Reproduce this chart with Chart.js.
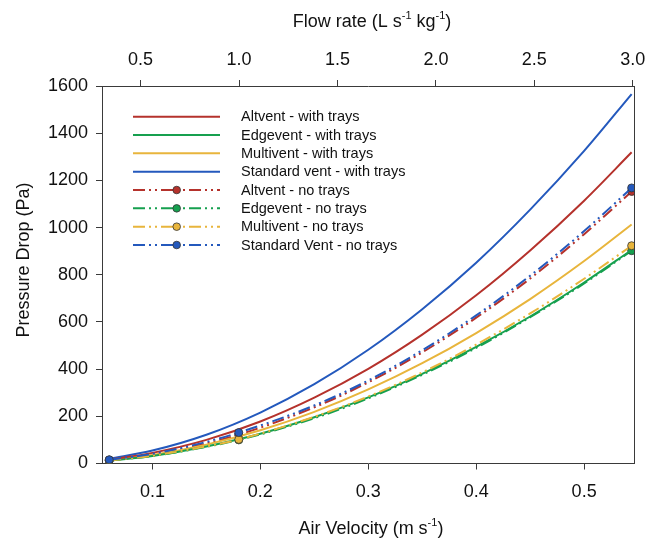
<!DOCTYPE html>
<html><head><meta charset="utf-8">
<script src="https://cdn.jsdelivr.net/npm/chart.js@4.4.0/dist/chart.umd.min.js"></script>
<style>html,body{margin:0;padding:0;background:#fff}#wrap{width:648px;height:543px;position:relative}</style>
</head><body><div id="wrap"><canvas id="c" width="648" height="543"></canvas></div>
<script>
// ---- data ----
const VELOCITY_TRAYS   = [0.06, 0.10, 0.15, 0.20, 0.25, 0.30, 0.35, 0.40, 0.45, 0.50, 0.544];
const VELOCITY_NOTRAYS = [0.06, 0.10, 0.14, 0.18, 0.25, 0.30, 0.35, 0.40, 0.45, 0.50, 0.544];
const MEASURED_INDEX   = [0, 3, 10];

const ALTVENT_TRAYS   = [16, 45, 100, 178, 279, 401, 546, 713, 903, 1114, 1319];
const EDGEVENT_TRAYS  = [12, 32, 72, 126, 196, 280, 380, 494, 623, 767, 905];
const MULTIVENT_TRAYS = [13, 36, 80, 141, 219, 314, 425, 553, 697, 858, 1013];
const STANDARD_TRAYS  = [20, 55, 122, 216, 336, 482, 654, 851, 1076, 1325, 1566];

const ALTVENT_NOTRAYS   = [15, 38, 74, 122, 238, 344, 471, 618, 784, 972, 1153];
const EDGEVENT_NOTRAYS  = [13, 32, 62, 100, 192, 276, 376, 490, 620, 763, 902];
const MULTIVENT_NOTRAYS = [13, 33, 64, 102, 198, 284, 386, 504, 636, 783, 923];
const STANDARD_NOTRAYS  = [16, 41, 80, 131, 246, 352, 480, 628, 796, 985, 1168];

const SERIES_NAMES = [
  'Altvent - with trays', 'Edgevent - with trays', 'Multivent - with trays', 'Standard vent - with trays',
  'Altvent - no trays', 'Edgevent - no trays', 'Multivent - no trays', 'Standard Vent - no trays'
];
const Y_TICKS = [0, 200, 400, 600, 800, 1000, 1200, 1400, 1600];
const VELOCITY_TICKS = [0.1, 0.2, 0.3, 0.4, 0.5];
const FLOW_TICKS = [0.5, 1.0, 1.5, 2.0, 2.5, 3.0];

// ---- styles ----
const RED = '#b5322c', GREEN = '#16a04f', YELLOW = '#e8b53c', BLUE = '#2459bd';
const FONT = '"Liberation Sans", Arial, sans-serif';
const DASH = [12, 4, 2, 4, 2, 4];

function pts(xs, ys) { return xs.map((x, i) => ({x: x, y: ys[i]})); }
function radii(n) { const r = []; for (let i = 0; i < n; i++) r.push(MEASURED_INDEX.includes(i) ? 4 : 0); return r; }

function solid(label, ys, color) {
  return {label, data: pts(VELOCITY_TRAYS, ys), borderColor: color, backgroundColor: color,
    borderWidth: 2, pointRadius: 0, cubicInterpolationMode: 'monotone', fill: false, xAxisID: 'x', yAxisID: 'y'};
}
function dashed(label, ys, color) {
  return {label, data: pts(VELOCITY_NOTRAYS, ys), borderColor: color, backgroundColor: color,
    borderWidth: 2, borderDash: DASH, pointRadius: radii(ys.length), pointHoverRadius: 0,
    pointBackgroundColor: color, pointBorderColor: '#333', pointBorderWidth: 0.8,
    cubicInterpolationMode: 'monotone', fill: false, xAxisID: 'x', yAxisID: 'y'};
}

const datasets = [
  solid(SERIES_NAMES[0], ALTVENT_TRAYS, RED),
  solid(SERIES_NAMES[1], EDGEVENT_TRAYS, GREEN),
  solid(SERIES_NAMES[2], MULTIVENT_TRAYS, YELLOW),
  solid(SERIES_NAMES[3], STANDARD_TRAYS, BLUE),
  dashed(SERIES_NAMES[4], ALTVENT_NOTRAYS, RED),
  dashed(SERIES_NAMES[5], EDGEVENT_NOTRAYS, GREEN),
  dashed(SERIES_NAMES[6], MULTIVENT_NOTRAYS, YELLOW),
  dashed(SERIES_NAMES[7], STANDARD_NOTRAYS, BLUE)
];
// drawing order (lower order = drawn on top)
datasets[7].order = -2;
datasets[6].order = -1;

const AXIS_COLOR = '#3a3a3a';
function axis(pos, min, max, ticks, extra) {
  return Object.assign({
    type: 'linear', position: pos, min: min, max: max,
    afterBuildTicks: s => { s.ticks = ticks.map(v => ({value: v})); },
    ticks: {font: {family: FONT, size: 18}, color: '#111', padding: 10,
      callback: v => String(v), maxRotation: 0, autoSkip: false},
    grid: {drawOnChartArea: false, drawTicks: true, tickLength: 6, color: AXIS_COLOR, tickColor: AXIS_COLOR, lineWidth: 1},
    border: {display: true, color: AXIS_COLOR, width: 1}
  }, extra);
}

function fixH(h) { return s => { s.height = h; s.paddingLeft = 0; s.paddingRight = 0; }; }
function fixW(w) { return s => { s.width = w; s.paddingTop = 0; s.paddingBottom = 0; }; }

const scales = {
  x: axis('bottom', 0.0533, 0.5462, VELOCITY_TICKS, {afterFit: fixH(79.5)}),
  x2: axis('top', 0.304, 3.006, FLOW_TICKS, {afterFit: fixH(86)}),
  y: axis('left', 0, 1600, Y_TICKS, {afterFit: fixW(102)})
};
scales.x.ticks.callback = v => v.toFixed(1);
scales.x.ticks.padding = 12;
scales.x2.ticks.callback = v => v.toFixed(1);
scales.x2.ticks.padding = 9;
scales.y.ticks.padding = 8;

function drawRich(ctx, parts, cx, cy, size) {
  const big = size + 'px ' + FONT, small = Math.round(size * 0.62) + 'px ' + FONT;
  let total = 0;
  parts.forEach(p => { ctx.font = p.sup ? small : big; p.w = ctx.measureText(p.t).width; total += p.w; });
  let x = cx - total / 2;
  ctx.textBaseline = 'alphabetic';
  ctx.textAlign = 'left';
  parts.forEach(p => {
    ctx.font = p.sup ? small : big;
    ctx.fillText(p.t, x, p.sup ? cy - size * 0.42 : cy);
    x += p.w;
  });
}

const decor = {
  id: 'decor',
  afterDraw(chart) {
    const ctx = chart.ctx, a = chart.chartArea;
    ctx.save();
    ctx.strokeStyle = AXIS_COLOR; ctx.lineWidth = 1;
    ctx.beginPath(); ctx.moveTo(a.right + 0.5, a.top); ctx.lineTo(a.right + 0.5, a.bottom); ctx.stroke();
    ctx.fillStyle = '#111';
    drawRich(ctx, [{t: 'Air Velocity (m s'}, {t: '-1', sup: true}, {t: ')'}], 371, 534, 18);
    drawRich(ctx, [{t: 'Flow rate (L s'}, {t: '-1', sup: true}, {t: ' kg'}, {t: '-1', sup: true}, {t: ')'}], 372, 27, 18);
    ctx.save();
    ctx.translate(29, 260); ctx.rotate(-Math.PI / 2);
    drawRich(ctx, [{t: 'Pressure Drop (Pa)'}], 0, 0, 18);
    ctx.restore();
    const x0 = 133, x1 = 220, xt = 241, y0 = 116.7, dy = 18.33;
    chart.data.datasets.forEach((ds, i) => {
      const y = y0 + i * dy;
      ctx.strokeStyle = ds.borderColor; ctx.lineWidth = ds.borderWidth;
      ctx.setLineDash(ds.borderDash || []);
      ctx.beginPath(); ctx.moveTo(x0, y); ctx.lineTo(x1, y); ctx.stroke();
      ctx.setLineDash([]);
      if (ds.borderDash) {
        ctx.fillStyle = ds.borderColor; ctx.strokeStyle = '#333'; ctx.lineWidth = 0.8;
        ctx.beginPath(); ctx.arc(176.7, y, 3.8, 0, Math.PI * 2); ctx.fill(); ctx.stroke();
      }
      ctx.fillStyle = '#111';
      ctx.font = '14.5px ' + FONT; ctx.textBaseline = 'middle'; ctx.textAlign = 'left';
      ctx.fillText(ds.label, xt, y + 0.5);
    });
    ctx.restore();
  }
};

new Chart(document.getElementById('c'), {
  type: 'line',
  data: {datasets},
  options: {
    responsive: false, animation: false, devicePixelRatio: 1,
    layout: {padding: {left: 0, right: 14, top: 0, bottom: 0}},
    plugins: {legend: {display: false}, tooltip: {enabled: false}, title: {display: false}},
    scales: scales
  },
  plugins: [decor]
});
</script></body></html>
